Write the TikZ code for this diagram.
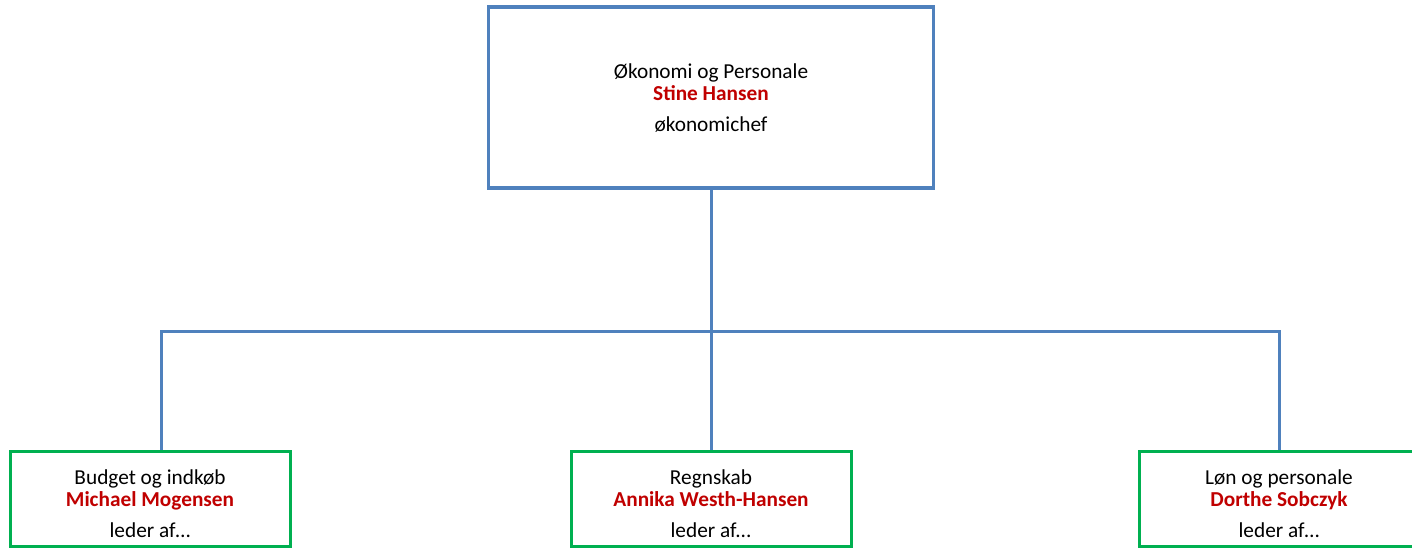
\documentclass[tikz,border=0pt]{standalone}
\usepackage{fontspec}
\setmainfont{Carlito}
\usepackage{tikz}
\usetikzlibrary{calc}
\definecolor{lineblue}{HTML}{4F81BD}
\definecolor{boxgreen}{HTML}{00B050}
\definecolor{namered}{HTML}{C00000}

\begin{document}
\begin{tikzpicture}[x=1pt, y=-1pt,
  chiefbox/.style={draw=lineblue, line width=3.5pt, fill=white, minimum width=445pt, minimum height=181pt, align=center, font=\fontsize{21.3}{22}\selectfont, inner sep=0pt},
  unitbox/.style={draw=boxgreen, line width=3pt, fill=white, minimum width=280pt, minimum height=95pt, align=center, font=\fontsize{21.3}{22}\selectfont, inner sep=0pt},
  link/.style={draw=lineblue, line width=3pt}]
  \useasboundingbox (0,0) rectangle (1412,547);
  \coordinate (bus) at (711,331);
  \node[chiefbox] (chief) at (711,97.5) {Økonomi og Personale\\ \textbf{\color{namered}Stine Hansen}\\[9pt] økonomichef};
  % extra strut on the first line pushes the text a little lower in the box
  \node[unitbox] (budget) at (150,498.5) {\rule{0pt}{26pt}Budget og indkøb\\ \textbf{\color{namered}Michael Mogensen}\\[9pt] leder af…};
  \node[unitbox] (regnskab) at (711,498.5) {\rule{0pt}{26pt}Regnskab\\ \textbf{\color{namered}Annika Westh-Hansen}\\[9pt] leder af{.}{.}{.}};
  \node[unitbox] (loen) at (1279,498.5) {\rule{0pt}{26pt}Løn og personale\\ \textbf{\color{namered}Dorthe Sobczyk}\\[9pt] leder af…};
  \draw[link] (chief.south) -- (regnskab.north);
  \draw[link] ([xshift=11pt]budget.north) |- (bus) -| (loen.north);
\end{tikzpicture}
\end{document}
